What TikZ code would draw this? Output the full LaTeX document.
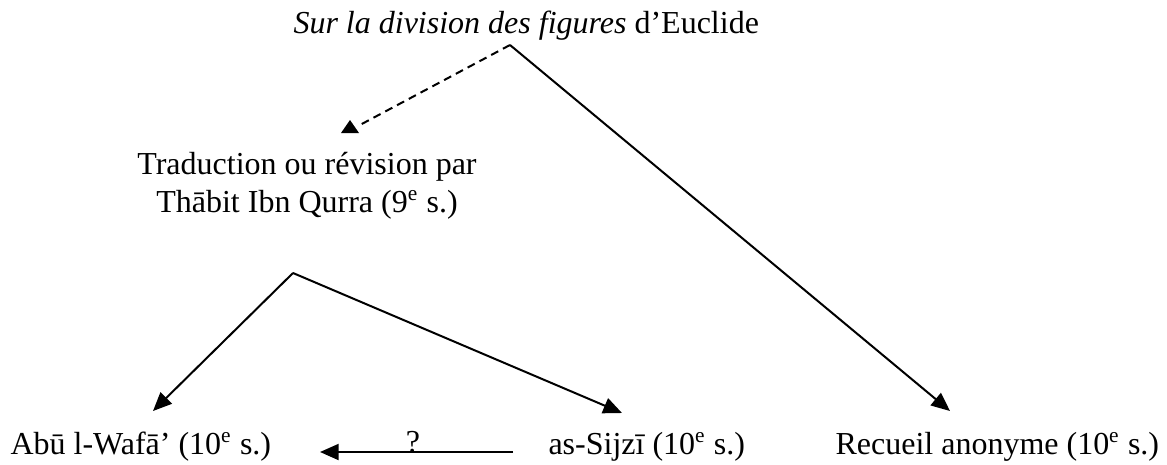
\documentclass[tikz,border=0pt]{standalone}
\usepackage{fontspec}
\setmainfont{Liberation Serif}
\usetikzlibrary{arrows.meta}
\begin{document}
\begin{tikzpicture}[x=0.375pt,y=-0.375pt,
  txt/.style={inner sep=0pt, anchor=base west, font=\fontsize{12pt}{14.25pt}\selectfont},
  conn/.style={line width=0.75pt, -{Triangle[length=7pt,width=6pt]}},
  dashconn/.style={line width=0.75pt, dash pattern=on 3pt off 2pt},
]
\useasboundingbox (0,0) rectangle (1167,464);
\node[txt] (t) at (293,33) {\textit{Sur la division des figures} d’Euclide};
\node[txt, anchor=base, align=center] (tr) at (307,212) {Traduction ou révision par\\Thābit Ibn Qurra (9\textsuperscript{e} s.)};
\node[txt] (a) at (10,454) {Abū l-Wafā’ (10\textsuperscript{e} s.)};
\node[txt] (s) at (548,454) {as-Sijzī (10\textsuperscript{e} s.)};
\node[txt] (r) at (835,454) {Recueil anonyme (10\textsuperscript{e} s.)};
\coordinate (ts) at (510,45);
\coordinate (dt) at (358,126);
\coordinate (fork) at (293,273);
\coordinate (ta) at (153,411);
\coordinate (tsj) at (622,413);
\coordinate (tr2) at (950,411);
\coordinate (qs) at (513,452);
\coordinate (qe) at (320,452);
\draw[dashconn] (ts) -- (dt);
\fill (350,120) -- (341,133) -- (359,133) -- cycle;
\draw[conn] (ts) -- (tr2);
\draw[conn] (fork) -- (ta);
\draw[conn] (fork) -- (tsj);
\node[txt, anchor=base] (q) at (413,452) {?};
\draw[conn] (qs) -- (qe);
\end{tikzpicture}
\end{document}
